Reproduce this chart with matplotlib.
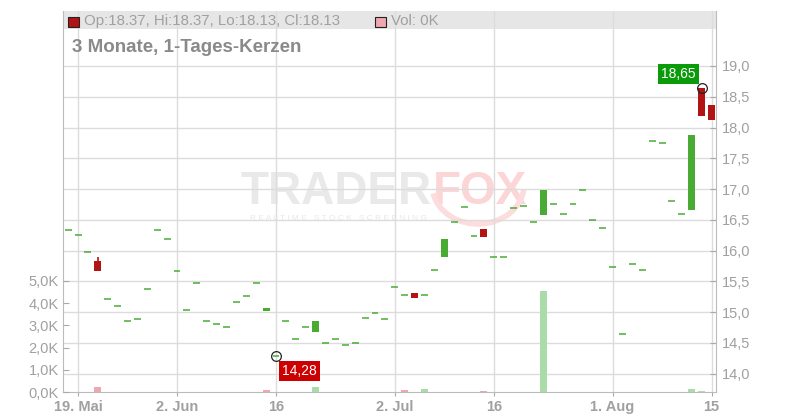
import numpy as np
import matplotlib
matplotlib.use('Agg')
import matplotlib.pyplot as plt
from matplotlib.patches import Rectangle, Arc
from matplotlib.ticker import FuncFormatter

plt.rcParams['font.family'] = ['Liberation Sans', 'DejaVu Sans']

# Handelstage als Index (19. Mai = 0)
days = np.arange(-1, 65)

# Kerzen (O/H/L/C) - Dojis haben O=H=L=C
opens = [16.33, 16.25, 15.97, 15.83, 15.22, 15.09, 14.86, 14.88, 15.37, 16.33,
         16.18, 15.66, 15.04, 15.48, 14.85, 14.80, 14.75, 15.16, 15.26, 15.47,
         15.02, 14.28, 14.86, 14.56, 14.75, 14.68, 14.49, 14.56, 14.46, 14.49,
         14.91, 14.98, 14.89, 15.40, 15.27, 15.31, 15.27, 15.68, 15.89, 16.46,
         16.70, 16.23, 16.35, 15.90, 15.89, 16.69, 16.72, 16.46, 16.58, 16.75,
         16.59, 16.75, 16.98, 16.49, 16.36, 15.73, 14.64, 15.78, 15.69, 17.78,
         17.74, 16.80, 16.60, 16.66, 18.65, 18.37]
closes = [16.33, 16.25, 15.97, 15.67, 15.22, 15.09, 14.86, 14.88, 15.37, 16.33,
          16.18, 15.66, 15.04, 15.48, 14.85, 14.80, 14.75, 15.16, 15.26, 15.47,
          15.07, 14.28, 14.86, 14.56, 14.75, 14.86, 14.49, 14.56, 14.46, 14.49,
          14.91, 14.98, 14.89, 15.40, 15.27, 15.23, 15.27, 15.68, 16.19, 16.46,
          16.70, 16.23, 16.22, 15.90, 15.89, 16.69, 16.72, 16.46, 16.98, 16.75,
          16.59, 16.75, 16.98, 16.49, 16.36, 15.73, 14.64, 15.78, 15.69, 17.78,
          17.74, 16.80, 16.60, 17.88, 18.19, 18.13]
highs = list(np.maximum(opens, closes))
lows = list(np.minimum(opens, closes))
highs[3] = 15.89   # Docht am 21. Mai

# Volumen (Stueck)
volumes = [0, 0, 0, 240, 0, 0, 0, 0, 0, 0,
           0, 0, 0, 0, 0, 0, 0, 0, 0, 0,
           100, 0, 0, 0, 0, 230, 0, 0, 0, 0,
           0, 0, 0, 0, 100, 0, 150, 0, 0, 0,
           0, 0, 60, 0, 0, 0, 0, 0, 4530, 0,
           0, 0, 0, 0, 0, 0, 0, 0, 0, 0,
           0, 0, 0, 150, 60, 0]

tick_days = [0, 10, 20, 32, 42, 54, 64]
tick_labels = ['19. Mai', '2. Jun', '16', '2. Jul', '16', '1. Aug', '15']

hi_day, hi_val = 63, 18.65
lo_day, lo_val = 20, 14.28

GREEN = '#4aab34'
RED = '#b21414'
GRID = '#dcdcdc'
TXT = '#a0a0a0'

fig = plt.figure(figsize=(8, 4.2), dpi=100)
ax = fig.add_axes([63 / 800, 28 / 420, 653 / 800, 381 / 420])

# Preisachse rechts
ax.set_xlim(-1.52, 64.45)
ax.set_ylim(13.70, 19.894)
ax.set_axisbelow(True)
ax.grid(True, color=GRID, lw=1.0)
ax.set_yticks(np.arange(14, 19.01, 0.5))
ax.yaxis.set_major_formatter(FuncFormatter(lambda v, p: f'{v:.1f}'.replace('.', ',')))
ax.set_xticks(tick_days)
ax.set_xticklabels(tick_labels, fontweight='bold')

# Kopfzeile grau
ax.add_patch(Rectangle((0, 1 - 18 / 381), 1, 18 / 381, transform=ax.transAxes,
                       facecolor='#e6e6e6', edgecolor='none', zorder=0.2))

# Wasserzeichen
ax.text(0.272, 0.525, 'TRADER', transform=ax.transAxes, fontsize=33, fontweight='bold',
        color='#e9e9e9', ha='left', va='center', zorder=0.3)
ax.text(0.567, 0.525, 'FOX', transform=ax.transAxes, fontsize=33, fontweight='bold',
        color='#fcd6d6', ha='left', va='center', zorder=0.3)
ax.text(0.287, 0.455, 'R E A L T I M E   S T O C K   S C R E E N I N G', transform=ax.transAxes,
        fontsize=6, color='#e8e8e8', ha='left', va='center', zorder=0.3)
ax.add_patch(Arc((478 / 800, 1 - 185 / 420), 92 / 800, 78 / 420, theta1=200, theta2=350,
                 transform=fig.transFigure, color='#fcdcdc', lw=4, zorder=0.3, clip_on=False))

# Kerzen zeichnen
for d, o, h, l, c in zip(days, opens, highs, lows, closes):
    col = GREEN if c >= o else RED
    if h > max(o, c) or l < min(o, c):
        ax.vlines(d, l, h, color=col, lw=1.2, zorder=2)
    if abs(c - o) < 0.02:
        ax.hlines(c, d - 0.35, d + 0.35, color=col, lw=1.1, zorder=2)
    else:
        ax.bar(d, abs(c - o), bottom=min(o, c), width=0.7, color=col, zorder=2)

# Hoch / Tief Markierungen
ax.plot(hi_day, hi_val, 'o', ms=7, mfc='none', mec='#222222', mew=0.9, zorder=3)
ax.plot(lo_day, lo_val, 'o', ms=7, mfc='none', mec='#222222', mew=0.9, zorder=3)
ax.annotate(f'{hi_val:.2f}'.replace('.', ','), xy=(hi_day, hi_val), xytext=(-4.3, 4.6),
            textcoords='offset points', ha='right', va='bottom', color='white', fontsize=10,
            bbox=dict(boxstyle='square,pad=0.22', fc='#0a9a0a', ec='none'), zorder=4)
ax.annotate(f'{lo_val:.2f}'.replace('.', ','), xy=(lo_day, lo_val), xytext=(4.4, -5.6),
            textcoords='offset points', ha='left', va='top', color='white', fontsize=10,
            bbox=dict(boxstyle='square,pad=0.22', fc='#cc0000', ec='none'), zorder=4)

# Volumen auf linker Achse
ax_vol = ax.twinx()
vol_col = ['#f0a8b0' if i > 0 and closes[i] < closes[i - 1] else '#aadcaa' for i in range(len(closes))]
ax_vol.bar(days, volumes, width=0.7, color=vol_col, zorder=1)
ax_vol.set_ylim(0, 17160)
ax_vol.set_yticks(np.arange(0, 5001, 1000))
ax_vol.yaxis.set_major_formatter(FuncFormatter(lambda v, p: f'{v / 1000:.1f}K'.replace('.', ',')))

ax.yaxis.tick_right()
ax_vol.yaxis.tick_left()

ax.tick_params(axis='y', direction='in', length=4, color='#aaaaaa', labelsize=10.5, labelcolor=TXT, pad=4)
ax_vol.tick_params(axis='y', direction='in', length=4, color='#aaaaaa', labelsize=10.5, labelcolor=TXT, pad=3)
ax.tick_params(axis='x', direction='out', length=3, color='#aaaaaa', labelsize=10.5, labelcolor=TXT, pad=3)

for s in ['top']:
    ax.spines[s].set_visible(False)
    ax_vol.spines[s].set_visible(False)
for s in ['left', 'right', 'bottom']:
    ax.spines[s].set_color('#bbbbbb')
    ax_vol.spines[s].set_visible(False)

# Legende oben
fig.add_artist(Rectangle((68 / 800, 1 - 27 / 420), 11 / 800, 10 / 420, transform=fig.transFigure,
                         fc=RED, ec='#222222', lw=0.8))
fig.text(84 / 800, 1 - 21 / 420, 'Op:18.37, Hi:18.37, Lo:18.13, Cl:18.13',
         fontsize=10.85, color=TXT, va='center', ha='left')
fig.add_artist(Rectangle((375 / 800, 1 - 27 / 420), 11 / 800, 10 / 420, transform=fig.transFigure,
                         fc='#f0a8b0', ec='#222222', lw=0.8))
fig.text(391 / 800, 1 - 21 / 420, 'Vol: 0K', fontsize=10.85, color=TXT, va='center', ha='left')
fig.text(72 / 800, 1 - 47 / 420, '3 Monate, 1-Tages-Kerzen', fontsize=13.5, fontweight='bold',
         color='#8a8a8a', va='center', ha='left')

fig.savefig('out.png', dpi=100, facecolor='white')
